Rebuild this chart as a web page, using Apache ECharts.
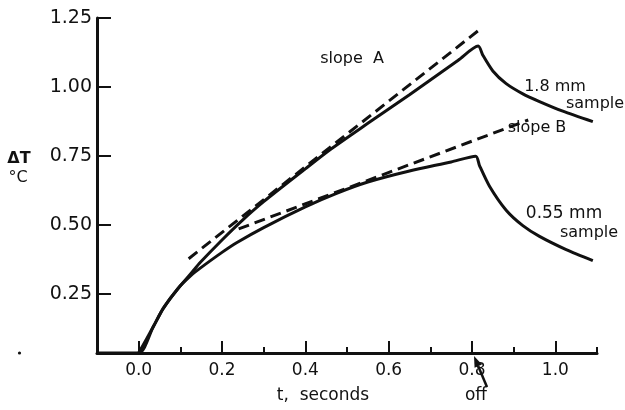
<!DOCTYPE html>
<html>
<head>
<meta charset="utf-8">
<script src="https://cdn.jsdelivr.net/npm/echarts@6/dist/echarts.min.js"></script>
<style>
html, body { margin: 0; padding: 0; background: #fff; }
#chart { width: 625px; height: 410px; }
</style>
</head>
<body>
<div id="chart"></div>
<script>
// 1.8 mm sample (upper solid curve)
const tThick = [-0.1, 0, 0.035, 0.059, 0.095, 0.127, 0.147, 0.2, 0.25, 0.3, 0.4, 0.46, 0.55, 0.65, 0.767, 0.815, 0.826, 0.85, 0.882, 0.922, 0.962, 1.018, 1.09]
const dtThick = [0.035, 0.035, 0.13, 0.197, 0.27, 0.326, 0.362, 0.445, 0.518, 0.584, 0.703, 0.773, 0.868, 0.972, 1.097, 1.148, 1.115, 1.058, 1.012, 0.975, 0.947, 0.912, 0.874]
// 0.55 mm sample (lower solid curve)
const tThin = [0, 0.035, 0.059, 0.095, 0.127, 0.147, 0.2, 0.235, 0.3, 0.4, 0.475, 0.55, 0.65, 0.75, 0.809, 0.818, 0.842, 0.882, 0.922, 0.962, 1.026, 1.09]
const dtThin = [0.035, 0.13, 0.197, 0.27, 0.318, 0.342, 0.40, 0.435, 0.49, 0.565, 0.614, 0.655, 0.695, 0.728, 0.749, 0.715, 0.64, 0.553, 0.497, 0.458, 0.41, 0.37]
// tangent lines
const tSlopeA = [0.12, 0.82]
const dtSlopeA = [0.377, 1.21]
const tSlopeB = [0.24, 0.935]
const dtSlopeB = [0.485, 0.88]
// ticks
const xMajor = [0, 0.2, 0.4, 0.6, 0.8, 1.0]
const xMinor = [0.1, 0.3, 0.5, 0.7, 0.9, 1.1]
const yTicks = [0.25, 0.5, 0.75, 1.0, 1.25]

const pairs = (xs, ys) => xs.map((x, i) => [x, ys[i]])
const FONT = 'DejaVu Sans'
const INK = '#111'

const chart = echarts.init(document.getElementById('chart'))

const xBase = {
    type: 'value',
    min: -0.1,
    max: 1.1,
    position: 'bottom',
    splitLine: { show: false }
}

// arrow "off" -> t = 0.8 (annotation)
const tail = [487, 387]
const tip = [474, 356]
const dx = tip[0] - tail[0]
const dy = tip[1] - tail[1]
const len = Math.sqrt(dx * dx + dy * dy)
const ux = dx / len
const uy = dy / len
const bx = tip[0] - ux * 11
const by = tip[1] - uy * 11

const txt = (x, y, text, size, weight) => ({
    type: 'text',
    x: x,
    y: y,
    style: {
        text: text,
        font: (weight || 'normal') + ' ' + (size || 16) + 'px "' + FONT + '"',
        fill: INK,
        textAlign: 'center',
        textVerticalAlign: 'middle'
    }
})

const option = {
    animation: false,
    backgroundColor: '#fff',
    grid: { left: 97, right: 28, top: 18, bottom: 57 },
    xAxis: [
        Object.assign({}, xBase, {
            axisLine: { onZero: false, lineStyle: { color: INK, width: 3 } },
            axisTick: { customValues: xMajor, inside: true, length: 12, lineStyle: { color: INK, width: 2 } },
            axisLabel: {
                customValues: xMajor,
                formatter: v => v.toFixed(1),
                color: INK,
                fontFamily: FONT,
                fontSize: 17,
                margin: 9
            }
        }),
        Object.assign({}, xBase, {
            axisLine: { show: false, onZero: false },
            axisTick: { customValues: xMinor, inside: true, length: 6, lineStyle: { color: INK, width: 2 } },
            axisLabel: { show: false }
        })
    ],
    yAxis: {
        type: 'value',
        min: 0.035,
        max: 1.25,
        splitLine: { show: false },
        axisLine: { show: true, onZero: false, lineStyle: { color: INK, width: 3 } },
        axisTick: { show: true, customValues: yTicks, inside: true, length: 14, lineStyle: { color: INK, width: 2 } },
        axisLabel: {
            customValues: yTicks,
            formatter: v => v.toFixed(2),
            color: INK,
            fontFamily: FONT,
            fontSize: 19,
            margin: 5
        }
    },
    series: [
        {
            type: 'line',
            data: pairs(tThick, dtThick),
            smooth: 0.25,
            showSymbol: false,
            lineStyle: { color: INK, width: 3 }
        },
        {
            type: 'line',
            data: pairs(tThin, dtThin),
            smooth: 0.25,
            showSymbol: false,
            lineStyle: { color: INK, width: 3 }
        },
        {
            type: 'line',
            data: pairs(tSlopeA, dtSlopeA),
            showSymbol: false,
            lineStyle: { color: INK, width: 3, type: [11, 6] }
        },
        {
            type: 'line',
            data: pairs(tSlopeB, dtSlopeB),
            showSymbol: false,
            lineStyle: { color: INK, width: 3, type: [11, 6] }
        }
    ],
    graphic: [
        txt(352, 59, 'slope  A', 16),
        txt(555, 87, '1.8 mm', 16),
        txt(595, 104, 'sample', 16),
        txt(537, 128, 'slope B', 16),
        txt(564, 214, '0.55 mm', 17),
        txt(589, 233, 'sample', 16),
        txt(19, 159, 'ΔT', 16, 'bold'),
        txt(18, 178, '°C', 16),
        txt(323, 396, 't,  seconds', 17),
        txt(476, 396, 'off', 17),
        { type: 'circle', shape: { cx: 19.5, cy: 353, r: 1.6 }, style: { fill: INK } },
        {
            type: 'line',
            shape: { x1: tail[0], y1: tail[1], x2: bx, y2: by },
            style: { stroke: INK, lineWidth: 2.5 }
        },
        {
            type: 'polygon',
            shape: { points: [tip, [bx - uy * 4, by + ux * 4], [bx + uy * 4, by - ux * 4]] },
            style: { fill: INK }
        }
    ]
}

chart.setOption(option)
</script>
</body>
</html>
